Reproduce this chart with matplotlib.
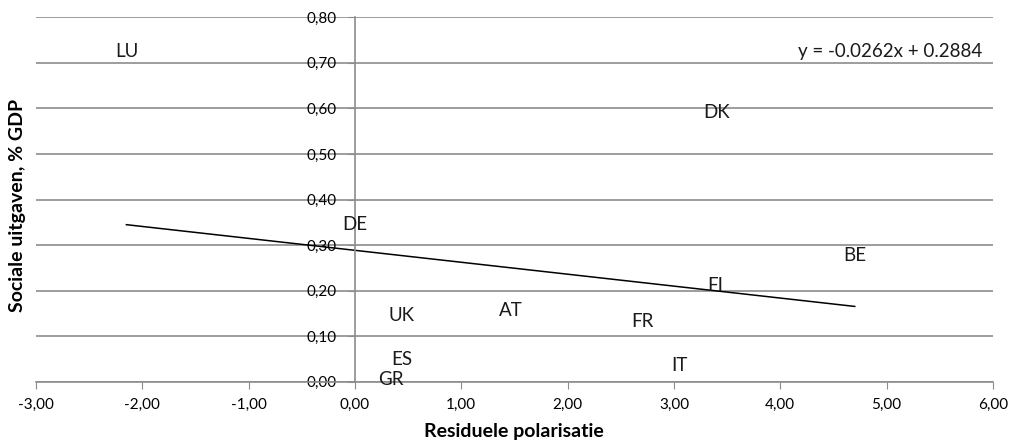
import matplotlib.pyplot as plt
from matplotlib.ticker import FuncFormatter, MultipleLocator
import numpy as np

plt.rcParams['font.family'] = ['Lato', 'DejaVu Sans']

# Country data (residual polarisation vs social spending, % GDP)
countries = ['LU', 'DK', 'DE', 'BE', 'FI', 'AT', 'FR', 'UK', 'ES', 'IT', 'GR']
polarisation = [-2.15, 3.40, 0.00, 4.70, 3.39, 1.47, 2.70, 0.44, 0.44, 3.05, 0.34]
spending = [0.724, 0.592, 0.346, 0.278, 0.212, 0.157, 0.132, 0.145, 0.048, 0.035, 0.005]

# Trend line coefficients as shown on the chart
slope = -0.0262
intercept = 0.2884

grid_col = '#8c8c8c'

fig = plt.figure(figsize=(10.10, 4.46), dpi=100)
ax = fig.add_axes([36 / 1010, 1 - 381.7 / 446, (993 - 36) / 1010, (381.7 - 17.3) / 446])

ax.set_xlim(-3, 6)
ax.set_ylim(0, 0.8)

# labels only, no markers
for c, x, y in zip(countries, polarisation, spending):
    ax.text(x, y, c, ha='center', va='center', fontsize=13.5, color='#1a1a1a')

# trend line between min and max x
xs = np.array([min(polarisation), max(polarisation)])
ax.plot(xs, slope * xs + intercept, color='black', lw=1.1)

ax.text(0.989, 0.905, 'y = -0.0262x + 0.2884', transform=ax.transAxes,
        ha='right', va='center', fontsize=13.5, color='#1a1a1a')

# axes styling
for s in ['top', 'right']:
    ax.spines[s].set_visible(False)
ax.spines['left'].set_position(('data', 0))
ax.spines['left'].set_color(grid_col)
ax.spines['bottom'].set_color(grid_col)
ax.spines['left'].set_linewidth(1.2)
ax.spines['bottom'].set_linewidth(1.2)

ax.xaxis.set_major_locator(MultipleLocator(1))
ax.yaxis.set_major_locator(MultipleLocator(0.1))
fmt = FuncFormatter(lambda v, p: f'{v:.2f}'.replace('.', ','))
ax.xaxis.set_major_formatter(fmt)
ax.yaxis.set_major_formatter(fmt)
ax.tick_params(axis='x', direction='out', length=5, color=grid_col, labelsize=11, pad=7)
ax.tick_params(axis='y', direction='out', length=5, color=grid_col, labelsize=11, pad=8)

ax.yaxis.grid(True, color=grid_col, lw=1.2)
ax.set_axisbelow(True)

fig.text(514 / 1010, 1 - 431 / 446, 'Residuele polarisatie', ha='center', va='center',
         fontsize=14, fontweight='bold')
fig.text(18 / 1010, 1 - 205 / 446, 'Sociale uitgaven, % GDP', ha='center', va='center',
         rotation=90, fontsize=14, fontweight='bold')

fig.savefig('out.png', dpi=100)
